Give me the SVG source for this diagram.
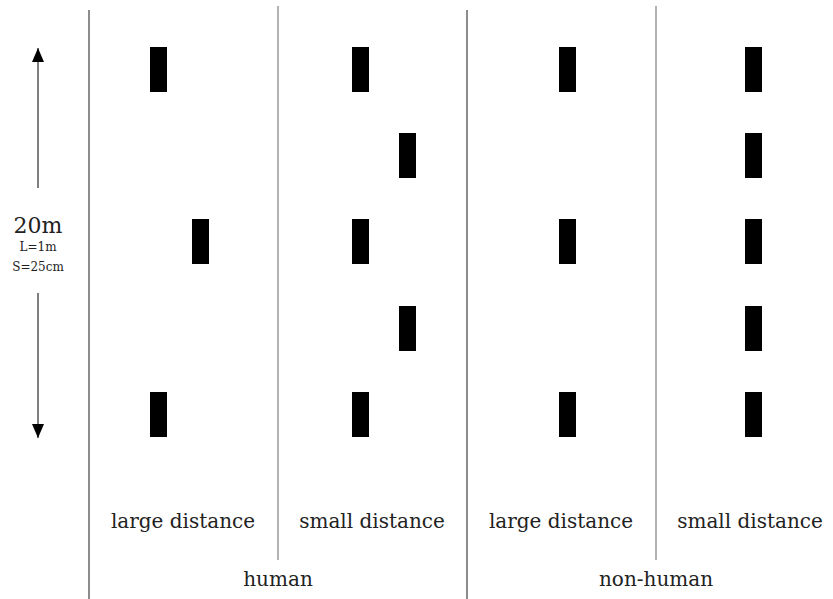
<svg xmlns="http://www.w3.org/2000/svg" width="833" height="599" viewBox="0 0 833 599">
  <defs>
    <style>
      .label { font-family: "DejaVu Serif", "Liberation Serif", serif; fill: #222; text-anchor: middle; }
      .cond { font-size: 20px; }
      .group { font-size: 20px; }
      .post { fill: #000; }
      .divider { stroke: #666; stroke-width: 1.5; }
      .subdivider { stroke: #999; stroke-width: 1.5; }
      .scale { stroke: #555; stroke-width: 1.5; fill: none; }
    </style>
    <!-- arrowhead drawn along +x so orient="auto" turns it with the line -->
    <marker id="head" viewBox="0 0 14 12" refX="14" refY="6" markerWidth="14" markerHeight="12" markerUnits="userSpaceOnUse" orient="auto">
      <path d="M0,0 L14,6 L0,12 Z" fill="#000"/>
    </marker>
  </defs>

  <rect width="833" height="599" fill="#fff"/>

  <!-- column dividers -->
  <g id="dividers">
    <line class="divider" x1="89" y1="10" x2="89" y2="599"/>
    <line class="subdivider" x1="278" y1="6" x2="278" y2="560"/>
    <line class="divider" x1="467" y1="10" x2="467" y2="599"/>
    <line class="subdivider" x1="656" y1="6" x2="656" y2="560"/>
  </g>

  <!-- 20 m scale bar -->
  <g id="scale">
    <line class="scale" x1="38" y1="188" x2="38" y2="48" marker-end="url(#head)"/>
    <line class="scale" x1="38" y1="293" x2="38" y2="438" marker-end="url(#head)"/>
    <text class="label" x="38" y="233" font-size="22">20m</text>
    <text class="label" x="38" y="251" font-size="12">L=1m</text>
    <text class="label" x="38" y="271" font-size="12">S=25cm</text>
  </g>

  <!-- human, large distance -->
  <g id="human-large">
    <rect class="post" x="150" y="47" width="17" height="45"/>
    <rect class="post" x="192" y="219" width="17" height="45"/>
    <rect class="post" x="150" y="392" width="17" height="45"/>
  </g>

  <!-- human, small distance -->
  <g id="human-small">
    <rect class="post" x="352" y="47" width="17" height="45"/>
    <rect class="post" x="399" y="133" width="17" height="45"/>
    <rect class="post" x="352" y="219" width="17" height="45"/>
    <rect class="post" x="399" y="306" width="17" height="45"/>
    <rect class="post" x="352" y="392" width="17" height="45"/>
  </g>

  <!-- non-human, large distance -->
  <g id="nonhuman-large">
    <rect class="post" x="559" y="47" width="17" height="45"/>
    <rect class="post" x="559" y="219" width="17" height="45"/>
    <rect class="post" x="559" y="392" width="17" height="45"/>
  </g>

  <!-- non-human, small distance -->
  <g id="nonhuman-small">
    <rect class="post" x="745" y="47" width="17" height="45"/>
    <rect class="post" x="745" y="133" width="17" height="45"/>
    <rect class="post" x="745" y="219" width="17" height="45"/>
    <rect class="post" x="745" y="306" width="17" height="45"/>
    <rect class="post" x="745" y="392" width="17" height="45"/>
  </g>

  <!-- labels -->
  <g id="labels">
    <text class="label cond" x="183" y="528">large distance</text>
    <text class="label cond" x="372" y="528">small distance</text>
    <text class="label cond" x="561" y="528">large distance</text>
    <text class="label cond" x="750" y="528">small distance</text>
    <text class="label group" x="278" y="586">human</text>
    <text class="label group" x="656" y="586">non-human</text>
  </g>
</svg>
